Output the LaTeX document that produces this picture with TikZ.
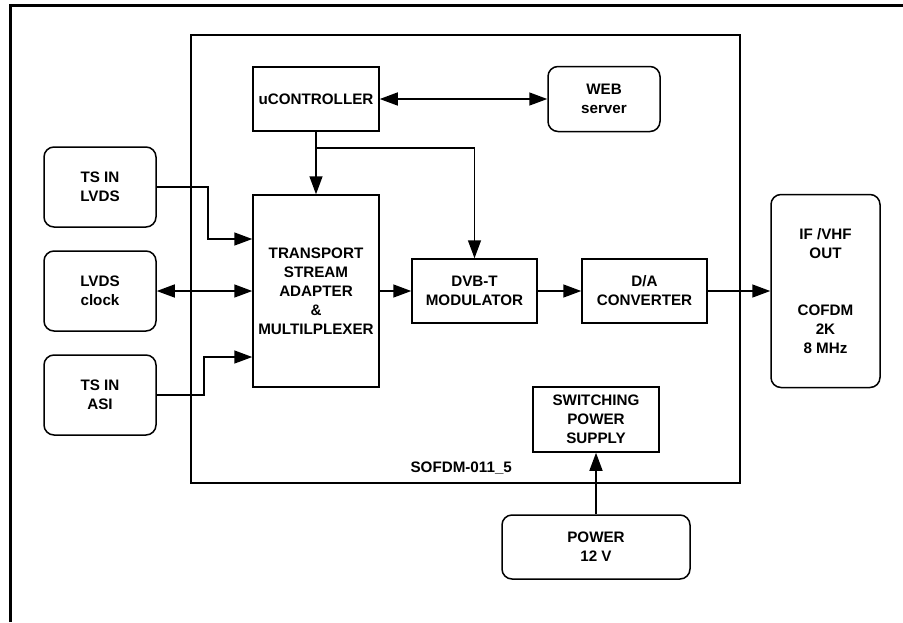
\documentclass[tikz,border=0pt]{standalone}
\usepackage{fontspec}
\setmainfont{Liberation Sans}
\usepackage{tikz}
\usetikzlibrary{arrows.meta}

\begin{document}
\begin{tikzpicture}[x=1pt, y=-1pt, line width=1.5pt,
    >={Triangle[length=18pt, width=13pt]},
    every node/.style={font=\fontsize{15.2}{19}\selectfont\bfseries, align=center},
    blk/.style={draw, line width=1.5pt, inner sep=2pt},
    ext/.style={blk, rounded corners=10pt}]
    \useasboundingbox (0,0) rectangle (903,622);
    \draw [line width=3pt] (10,622) -- (10,5) -- (903,5);
    \node [draw, line width=1.5pt, minimum width=549pt, minimum height=448pt] (board) at (465.5,259) {};
    \node [anchor=base east] (boardname) at (516,472) {SOFDM-011\_5};
    \node [blk, minimum width=126pt, minimum height=64pt] (ctrl) at (316,99) {uCONTROLLER};
    \node [ext, minimum width=112pt, minimum height=65pt] (web) at (604,99) {WEB\\server};
    \node [ext, minimum width=112pt, minimum height=80pt] (tslvds) at (100,187) {TS IN\\LVDS};
    \node [ext, minimum width=112pt, minimum height=80pt] (clk) at (100,291) {LVDS\\clock};
    \node [ext, minimum width=112pt, minimum height=80pt] (tsasi) at (100,395) {TS IN\\ASI};
    \node [blk, minimum width=126pt, minimum height=192pt] (tsadapt) at (316,291) {TRANSPORT\\STREAM\\ADAPTER\\\&\\MULTILPLEXER};
    \node [blk, minimum width=125pt, minimum height=64pt] (mod) at (474.5,291) {DVB-T\\MODULATOR};
    \node [blk, minimum width=125pt, minimum height=64pt] (dac) at (644.5,291) {D/A\\CONVERTER};
    \node [ext, minimum width=109pt, minimum height=193pt] (ifout) at (825.5,291) {IF /VHF\\OUT\\[38pt]COFDM\\2K\\8 MHz};
    \node [blk, minimum width=126pt, minimum height=65pt] (psu) at (596,419.5) {SWITCHING\\POWER\\SUPPLY};
    \node [ext, minimum width=188pt, minimum height=64pt] (pwr) at (596,547) {POWER\\12 V};
    % links
    \draw [<->] (ctrl.east) -- (web.west);
    \draw [->] (ctrl.south) -- (tsadapt.north);
    \draw [->] ([yshift=-16pt]ctrl.south) -| (mod.north);
    \draw [->] (tslvds.east) -- ++(51,0) |- ([yshift=52pt]tsadapt.west);
    \draw [<->] (clk.east) -- (tsadapt.west);
    \draw [->] (tsasi.east) -- ++(47,0) |- ([yshift=-66pt]tsadapt.west);
    \draw [->] (tsadapt.east) -- (mod.west);
    \draw [->] (mod.east) -- (dac.west);
    \draw [->] (dac.east) -- (ifout.west);
    \draw [->] (pwr.north) -- (psu.south);
\end{tikzpicture}
\end{document}
